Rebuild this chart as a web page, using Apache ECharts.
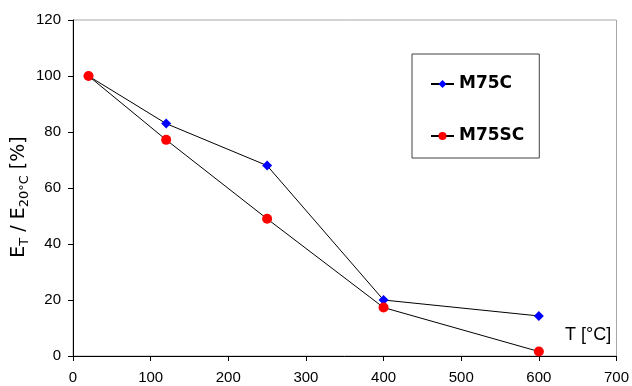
<!DOCTYPE html>
<html>
<head>
<meta charset="utf-8">
<script src="https://cdn.jsdelivr.net/npm/echarts@6/dist/echarts.min.js"></script>
<style>html,body{margin:0;padding:0;background:#fff;}#c{width:632px;height:386px;}</style>
</head>
<body>
<div id="c"></div>
<script>
const temps = [20, 120, 250, 400, 600];
const m75c = [100, 83, 68, 20, 14.3];
const m75sc = [100, 77.2, 49, 17.3, 1.6];
const seriesNames = ['M75C', 'M75SC'];
const xTicks = [0, 100, 200, 300, 400, 500, 600, 700];
const yTicks = [0, 20, 40, 60, 80, 100, 120];

const chart = echarts.init(document.getElementById('c'));
const pair = (xs, ys) => xs.map((x, i) => [x, ys[i]]);
const sansFont = '"Liberation Sans", Arial, sans-serif';
chart.setOption({
  animation: false,
  backgroundColor: '#fff',
  grid: { left: 73, right: 13, top: 20, bottom: 30, show: true, borderColor: '#a6a6a6', borderWidth: 1 },
  xAxis: {
    type: 'value', min: xTicks[0], max: xTicks[xTicks.length - 1], interval: 100,
    axisLine: { show: true, lineStyle: { color: '#000', width: 1 } },
    axisTick: { show: true, length: 5, lineStyle: { color: '#000' } },
    splitLine: { show: false },
    axisLabel: { margin: 14, color: '#000', fontFamily: sansFont, fontSize: 15 }
  },
  yAxis: {
    type: 'value', min: yTicks[0], max: yTicks[yTicks.length - 1], interval: 20,
    axisLine: { show: true, lineStyle: { color: '#000', width: 1 } },
    axisTick: { show: true, length: 5, lineStyle: { color: '#000' } },
    splitLine: { show: false },
    axisLabel: { margin: 12, color: '#000', fontFamily: sansFont, fontSize: 15 }
  },
  legend: {
    orient: 'vertical', left: 412, top: 54,
    padding: [20, 15, 12, 18],
    itemGap: 32, itemWidth: 23, itemHeight: 10,
    borderColor: '#404040', borderWidth: 1, backgroundColor: '#fff',
    textStyle: { fontFamily: 'DejaVu Sans', fontWeight: 'bold', fontSize: 17, color: '#000', lineHeight: 20 },
    data: seriesNames
  },
  graphic: [
    { type: 'text', left: 565, top: 326, style: { text: 'T [°C]', font: '18px "Liberation Sans", Arial, sans-serif', fill: '#000' } },
    { type: 'text', x: 19, y: 197, rotation: Math.PI / 2,
      style: {
        text: '{m|E}{s|T}{m| / E}{s|20°C}{m| [%]}',
        align: 'center', verticalAlign: 'middle',
        rich: {
          m: { fontFamily: 'DejaVu Sans', fontSize: 19, fill: '#000', lineHeight: 25, verticalAlign: 'middle' },
          s: { fontFamily: 'DejaVu Sans', fontSize: 13, fill: '#000', lineHeight: 13, verticalAlign: 'bottom' }
        }
      }
    }
  ],
  series: [
    { name: seriesNames[0], type: 'line', data: pair(temps, m75c), symbol: 'diamond', symbolSize: 10,
      itemStyle: { color: '#0000ff' }, lineStyle: { color: '#000', width: 1 } },
    { name: seriesNames[1], type: 'line', data: pair(temps, m75sc), symbol: 'circle', symbolSize: 10,
      itemStyle: { color: '#ff0000' }, lineStyle: { color: '#000', width: 1 } }
  ]
});
</script>
</body>
</html>
